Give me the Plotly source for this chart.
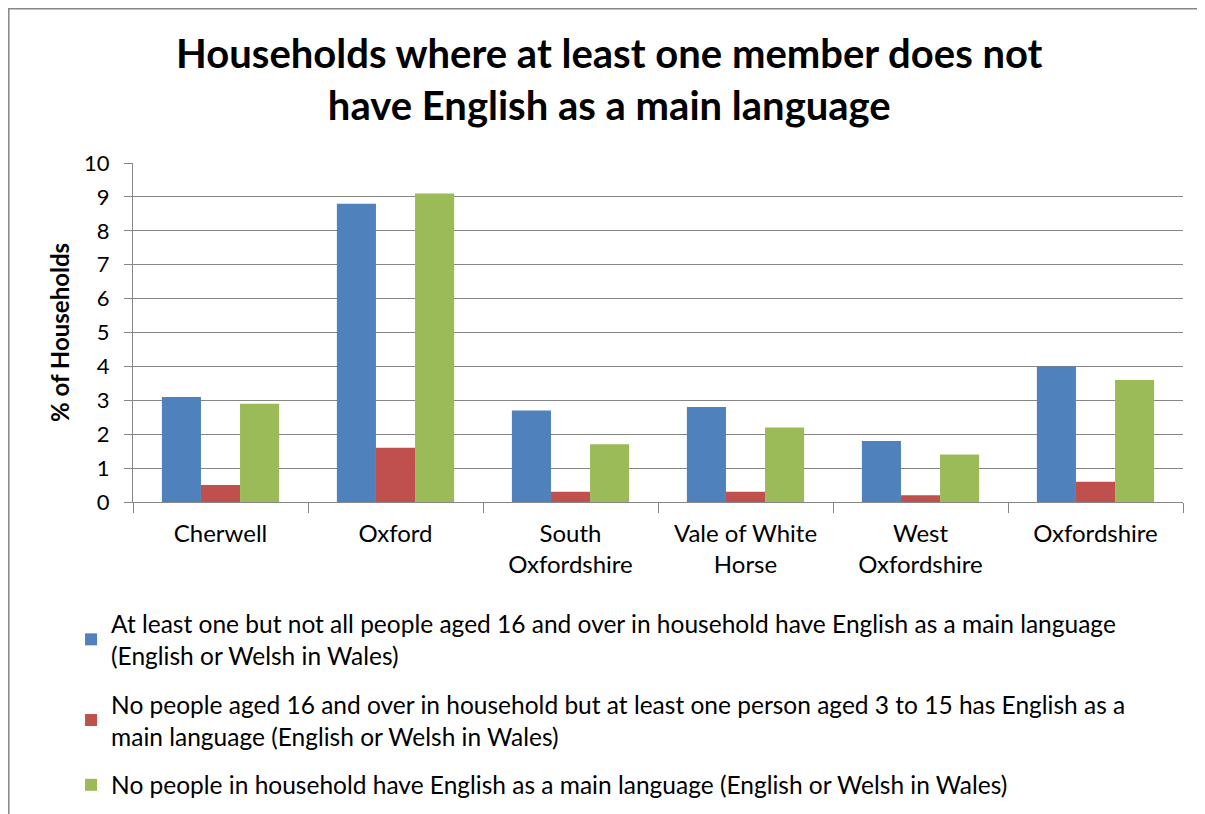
import plotly.graph_objects as go

# data
districts = ["Cherwell", "Oxford", "South<br>Oxfordshire", "Vale of White<br>Horse",
             "West<br>Oxfordshire", "Oxfordshire"]
some_adults = [3.1, 8.8, 2.7, 2.8, 1.8, 4.0]
children_only = [0.5, 1.6, 0.3, 0.3, 0.2, 0.6]
nobody = [2.9, 9.1, 1.7, 2.2, 1.4, 3.6]
series_names = [
    "At least one but not all people aged 16 and over in household have English as a main language<br>(English or Welsh in Wales)",
    "No people aged 16 and over in household but at least one person aged 3 to 15 has English as a<br>main language (English or Welsh in Wales)",
    "No people in household have English as a main language (English or Welsh in Wales)",
]
colors = ["#4F81BD", "#C0504D", "#9BBB59"]

FONT = "Lato, Calibri, sans-serif"

fig = go.Figure()
for i, (vals, name) in enumerate(zip([some_adults, children_only, nobody], series_names)):
    fig.add_trace(go.Bar(x=districts, y=vals, name=name, marker_color=colors[i],
                         marker_line_width=0, legendgroup=str(i)))

fig.update_layout(
    width=1205, height=814,
    paper_bgcolor="white", plot_bgcolor="white",
    margin=dict(l=125, r=30, t=155, b=320),
    font=dict(family=FONT, size=24, color="black"),
    title=dict(text="<b>Households where at least one member does not<br>have English as a main language</b>",
               x=0.499, xanchor="center", y=1 - 60 / 814, yanchor="middle", yref="container",
               font=dict(size=40, family=FONT)),
    barmode="group", bargap=0.33, bargroupgap=0,
    showlegend=True,
    legend=dict(x=-0.059, xanchor="left", y=-0.292, yanchor="top", orientation="v",
                font=dict(size=24.5), tracegroupgap=14, itemwidth=30,
                bgcolor="rgba(0,0,0,0)"),
)
fig.update_xaxes(showline=True, linecolor="#868686", linewidth=1, ticks="outside",
                 tickson="boundaries", ticklen=10, tickcolor="#868686",
                 tickfont=dict(size=24), ticklabelstandoff=10, showgrid=False)
fig.update_yaxes(range=[0, 10], dtick=1, showline=True, linecolor="#868686", linewidth=1,
                 showgrid=True, gridcolor="#868686", gridwidth=1, ticks="outside", ticklen=8,
                 tickcolor="#868686", tickfont=dict(size=22), ticklabelstandoff=10,
                 title=dict(text="<b>% of Households</b>", font=dict(size=24), standoff=7))

# chart frame
fig.add_shape(type="rect", xref="paper", yref="paper", x0=-0.1183, x1=1.0162, y0=-1.2, y1=1.455,
              line=dict(color="#868686", width=1.5), fillcolor="rgba(0,0,0,0)")

fig.write_html("out.html")
